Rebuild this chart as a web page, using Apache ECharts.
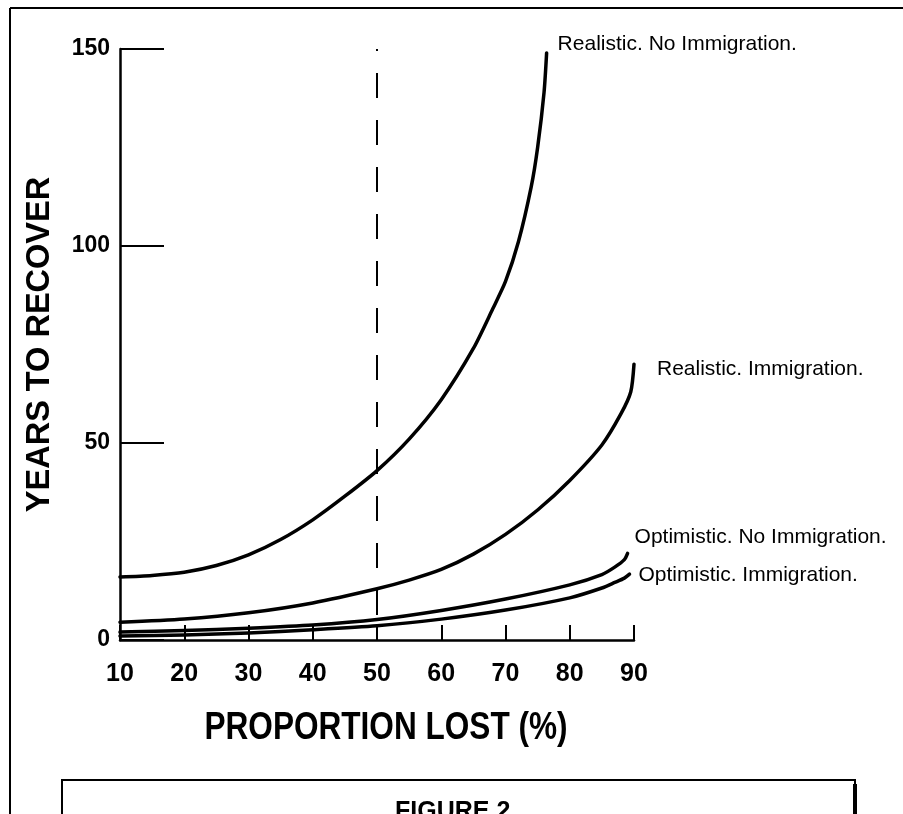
<!DOCTYPE html>
<html>
<head>
<meta charset="utf-8">
<script src="https://cdn.jsdelivr.net/npm/echarts@6/dist/echarts.min.js"></script>
<style>
html,body{margin:0;padding:0;background:#fff;}
#chart{width:903px;height:814px;}
</style>
</head>
<body>
<div id="chart"></div>
<script>
// ---- Data ----
const xTickValues = [10, 20, 30, 40, 50, 60, 70, 80, 90];
const yTickValues = [0, 50, 100, 150];

const xAxisTitle = 'PROPORTION LOST (%)';
const yAxisTitle = 'YEARS TO RECOVER';
const figureCaption = 'FIGURE 2';

const seriesNames = [
  'Realistic. No Immigration.',
  'Realistic. Immigration.',
  'Optimistic. No Immigration.',
  'Optimistic. Immigration.'
];

const realNoImmX = [10, 15, 20, 25, 30, 35, 40, 45, 50, 55, 60, 65, 68, 70, 72, 74, 75, 76, 76.4];
const realNoImmY = [16, 16.4, 17.2, 18.9, 21.6, 25.5, 30.5, 36.5, 43, 51, 61, 74, 84, 91, 101, 115, 125, 139, 149];

const realImmX = [10, 20, 30, 40, 50, 55, 60, 65, 70, 75, 80, 85, 88, 89.5, 90];
const realImmY = [4.5, 5.3, 6.9, 9.4, 13, 15.2, 17.9, 21.8, 26.8, 33, 40.5, 49.5, 57.5, 63, 70];

const optNoImmX = [10, 20, 30, 40, 50, 60, 70, 80, 85, 87, 88.5, 89];
const optNoImmY = [2, 2.4, 3, 3.8, 5.2, 7.5, 10.4, 14, 16.6, 18.5, 20.4, 22];

const optImmX = [10, 20, 30, 40, 50, 60, 70, 80, 85, 87, 88.5, 89.3];
const optImmY = [1, 1.3, 1.8, 2.6, 3.6, 5.3, 7.6, 10.7, 13.2, 14.6, 15.7, 16.7];

const referenceLineX = 50;

// ---- Build chart ----
function pairs(xs, ys) { return xs.map((x, i) => [x, ys[i]]); }

const labelFont = "'Liberation Sans', Arial, Helvetica, sans-serif";

const labelOffsets = [[11, -9], [23, 5], [7, -16], [9, 1]];
const allData = [
  pairs(realNoImmX, realNoImmY),
  pairs(realImmX, realImmY),
  pairs(optNoImmX, optNoImmY),
  pairs(optImmX, optImmY)
];

const series = allData.map((d, i) => ({
  name: seriesNames[i],
  type: 'line',
  data: d,
  smooth: 0.25,
  showSymbol: false,
  symbol: 'none',
  clip: false,
  lineStyle: { color: '#000', width: 3.5, cap: 'round', join: 'round' },
  endLabel: {
    show: true,
    formatter: seriesNames[i],
    color: '#000',
    fontFamily: labelFont,
    fontSize: 21,
    distance: 0,
    offset: labelOffsets[i],
    align: 'left',
    verticalAlign: 'middle'
  },
  z: 3
}));

series[0].markLine = {
  silent: true,
  symbol: ['none', 'none'],
  label: { show: false },
  lineStyle: { color: '#000', width: 2, type: [25, 22], dashOffset: 23 },
  data: [[{ coord: [referenceLineX, 150] }, { coord: [referenceLineX, 0] }]]
};

const chart = echarts.init(document.getElementById('chart'), null, { renderer: 'canvas' });
chart.setOption({
  animation: false,
  backgroundColor: '#fff',
  grid: { left: 120, right: 269, top: 49, bottom: 174, containLabel: false },
  xAxis: {
    type: 'value',
    min: xTickValues[0],
    max: xTickValues[xTickValues.length - 1],
    interval: 10,
    axisLine: { show: true, lineStyle: { color: '#000', width: 2.5 } },
    axisTick: { show: true, inside: true, length: 15, lineStyle: { color: '#000', width: 2 } },
    axisLabel: {
      color: '#000', fontFamily: labelFont, fontWeight: 'bold', fontSize: 25, margin: 22,
      formatter: v => String(v)
    },
    splitLine: { show: false }
  },
  yAxis: {
    type: 'value',
    min: yTickValues[0],
    max: yTickValues[yTickValues.length - 1],
    interval: 50,
    name: yAxisTitle,
    nameLocation: 'middle',
    nameRotate: 90,
    nameGap: 63,
    nameTextStyle: {
      color: '#000', fontFamily: labelFont, fontWeight: 'bold', fontSize: 32.5
    },
    axisLine: { show: true, lineStyle: { color: '#000', width: 2.5 } },
    axisTick: { show: true, inside: true, length: 44, lineStyle: { color: '#000', width: 2 } },
    axisLabel: {
      color: '#000', fontFamily: labelFont, fontWeight: 'bold', fontSize: 23, margin: 10,
      formatter: v => String(v)
    },
    splitLine: { show: false }
  },
  series: series,
  graphic: [
    { type: 'line', shape: { x1: 10, y1: 8, x2: 903, y2: 8 }, style: { stroke: '#000', lineWidth: 2 } },
    { type: 'line', shape: { x1: 10, y1: 8, x2: 10, y2: 814 }, style: { stroke: '#000', lineWidth: 2 } },
    { type: 'rect', shape: { x: 62, y: 780, width: 793, height: 60 }, style: { stroke: '#000', fill: 'none', lineWidth: 2 } },
    { type: 'line', shape: { x1: 855, y1: 784, x2: 855, y2: 814 }, style: { stroke: '#000', lineWidth: 4 } },
    {
      type: 'text', x: 386, y: 728, scaleX: 0.82,
      style: {
        text: xAxisTitle, fill: '#000', font: "bold 38.5px " + labelFont,
        textAlign: 'center', textVerticalAlign: 'middle'
      }
    },
    {
      type: 'text', left: 395, top: 800,
      style: { text: figureCaption, fill: '#000', font: "bold 25px " + labelFont }
    }
  ]
});
</script>
</body>
</html>
